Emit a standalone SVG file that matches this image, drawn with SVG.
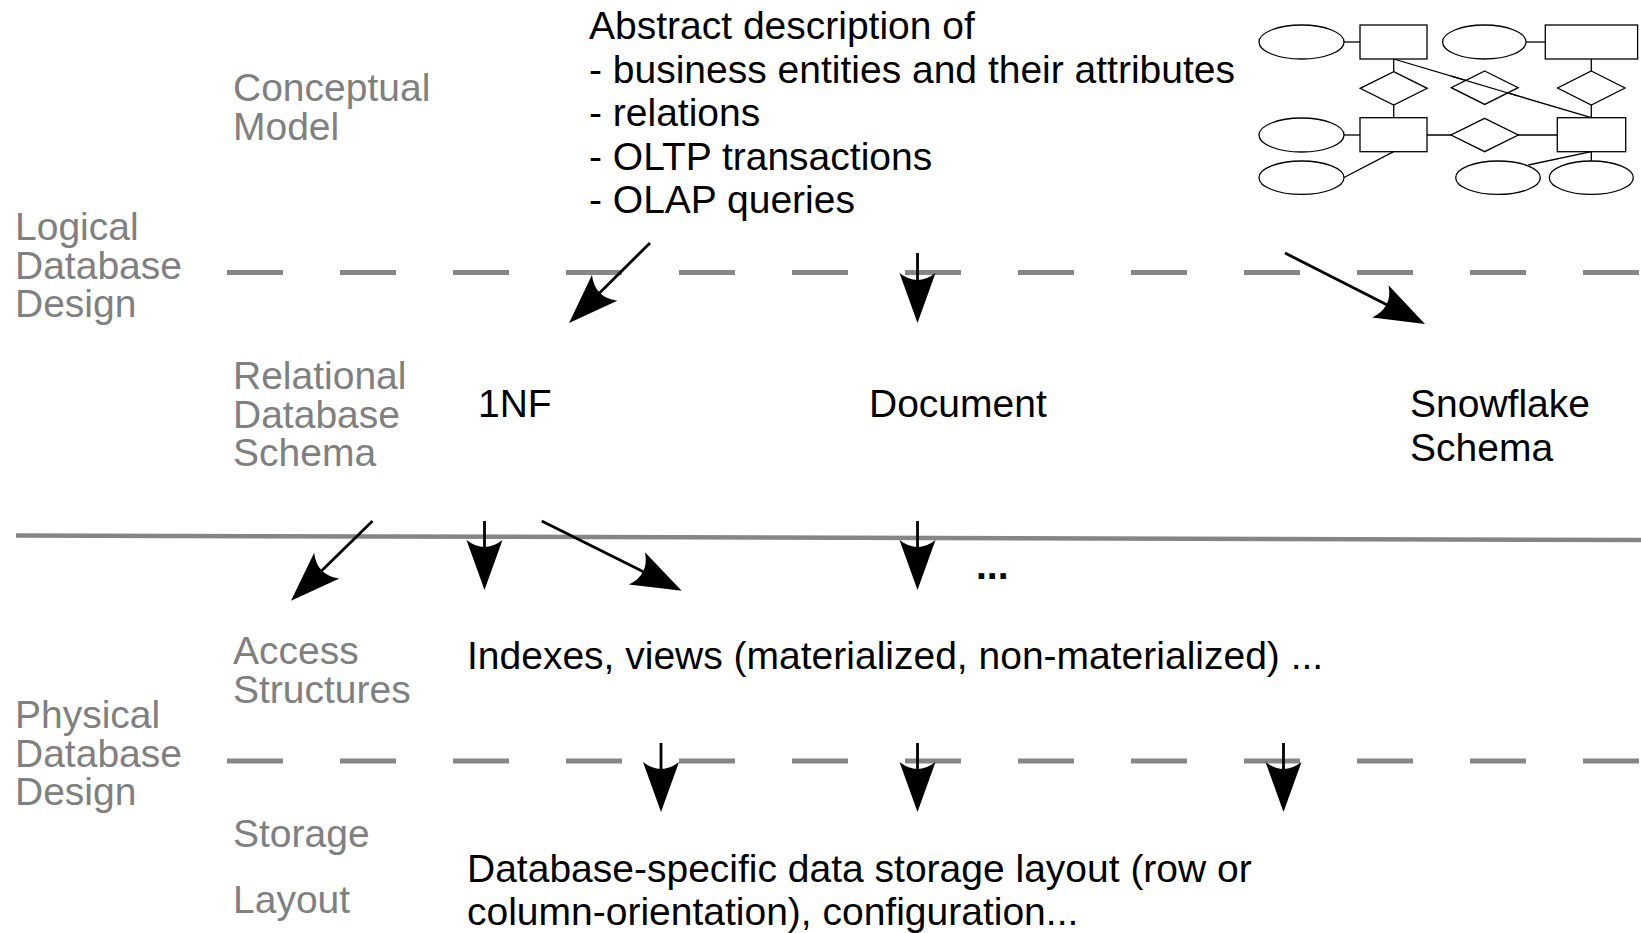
<svg xmlns="http://www.w3.org/2000/svg" width="1641" height="933" viewBox="0 0 1641 933">
  <style>
    .lbl { font-family: "Liberation Sans", Arial, Helvetica, sans-serif; font-size: 39px; fill: #808080; }
    .txt { font-family: "Liberation Sans", Arial, Helvetica, sans-serif; font-size: 39px; fill: #000; }
    .dash { stroke: #878787; stroke-width: 5; stroke-dasharray: 56 57; fill: none; }
    .solid { stroke: #858585; stroke-width: 4.5; fill: none; }
    .arrow { stroke: #000; stroke-width: 2.8; fill: none; marker-end: url(#head); }
    .er { stroke: #000; stroke-width: 1.3; fill: #fff; }
    .erl { stroke: #000; stroke-width: 1.3; fill: none; }
  </style>
  <defs>
    <!-- filled arrowhead with a concave back; tip sits 40 units beyond the line end -->
    <marker id="head" markerUnits="userSpaceOnUse" orient="auto" viewBox="-12 -20 54 40" refX="0" refY="0" markerWidth="54" markerHeight="40" overflow="visible">
      <path d="M40,0 L-10,-18 Q4,0 -10,18 Z" fill="#000"/>
    </marker>
  </defs>
  <rect width="1641" height="933" fill="#fff"/>

  <!-- layer separators -->
  <g id="separators">
    <line class="dash" x1="227" y1="272.5" x2="1641" y2="272.5"/>
    <line class="solid" x1="16" y1="535.5" x2="1641" y2="540"/>
    <line class="dash" x1="227" y1="761" x2="1641" y2="761"/>
  </g>

  <!-- layer names -->
  <g id="conceptual-model">
    <text class="lbl" x="233" y="101">Conceptual</text>
    <text class="lbl" x="233" y="139.5">Model</text>
  </g>
  <g id="logical-design">
    <text class="lbl" x="15" y="240">Logical</text>
    <text class="lbl" x="15" y="278.5">Database</text>
    <text class="lbl" x="15" y="317">Design</text>
  </g>
  <g id="relational-schema">
    <text class="lbl" x="233" y="389">Relational</text>
    <text class="lbl" x="233" y="427.5">Database</text>
    <text class="lbl" x="233" y="466">Schema</text>
  </g>
  <g id="access-structures">
    <text class="lbl" x="233" y="664">Access</text>
    <text class="lbl" x="233" y="702.5">Structures</text>
  </g>
  <g id="physical-design">
    <text class="lbl" x="15" y="728">Physical</text>
    <text class="lbl" x="15" y="766.5">Database</text>
    <text class="lbl" x="15" y="805">Design</text>
  </g>
  <g id="storage-layout">
    <text class="lbl" x="233" y="847">Storage</text>
    <text class="lbl" x="233" y="913">Layout</text>
  </g>

  <!-- content -->
  <g id="abstract-description">
    <text class="txt" x="589" y="39">Abstract description of</text>
    <text class="txt" x="589" y="82.5">- business entities and their attributes</text>
    <text class="txt" x="589" y="126">- relations</text>
    <text class="txt" x="589" y="169.5">- OLTP transactions</text>
    <text class="txt" x="589" y="213">- OLAP queries</text>
  </g>

  <g id="er-diagram">
    <line class="erl" x1="1344" y1="42" x2="1360" y2="42"/>
    <line class="erl" x1="1526" y1="42" x2="1545" y2="42"/>
    <line class="erl" x1="1393.7" y1="59" x2="1393.7" y2="117.7"/>
    <line class="erl" x1="1393.7" y1="59" x2="1591.3" y2="117.7"/>
    <line class="erl" x1="1591.3" y1="59" x2="1591.3" y2="117.7"/>
    <line class="erl" x1="1427" y1="135" x2="1557.3" y2="135"/>
    <line class="erl" x1="1344" y1="135" x2="1360" y2="135"/>
    <line class="erl" x1="1344" y1="177.5" x2="1393.7" y2="151.7"/>
    <line class="erl" x1="1528.3" y1="165" x2="1591.3" y2="151.7"/>
    <line class="erl" x1="1591.3" y1="151.7" x2="1591.3" y2="161"/>
    <ellipse class="er" cx="1301.5" cy="42" rx="42.5" ry="17"/>
    <rect class="er" x="1360" y="25" width="67" height="34"/>
    <ellipse class="er" cx="1484.3" cy="42" rx="41.7" ry="17"/>
    <rect class="er" x="1545.3" y="25" width="92.3" height="34"/>
    <polygon class="er" points="1393.7,71.7 1427.2,88.3 1393.7,105 1360.2,88.3"/>
    <polygon class="er" points="1484.7,71 1518.2,87.7 1484.7,104.4 1451.2,87.7"/>
    <polygon class="er" points="1591.3,71 1625,88 1591.3,105 1557.6,88"/>
    <line class="erl" x1="1451.2" y1="76.1" x2="1518.2" y2="96"/>
    <ellipse class="er" cx="1301.5" cy="135" rx="42.5" ry="17"/>
    <rect class="er" x="1360" y="117.7" width="67" height="34"/>
    <polygon class="er" points="1484.7,118.3 1518.3,135 1484.7,151.7 1451,135"/>
    <rect class="er" x="1557.3" y="117.7" width="68.4" height="34"/>
    <ellipse class="er" cx="1301.5" cy="177.7" rx="42.5" ry="16.7"/>
    <ellipse class="er" cx="1498" cy="177.7" rx="42.3" ry="16.7"/>
    <ellipse class="er" cx="1591.3" cy="177.7" rx="42" ry="16.7"/>
  </g>

  <g id="schema-1nf"><text class="txt" x="478" y="417">1NF</text></g>
  <g id="schema-document"><text class="txt" x="869" y="417">Document</text></g>
  <g id="schema-snowflake">
    <text class="txt" x="1410" y="417">Snowflake</text>
    <text class="txt" x="1410" y="461">Schema</text>
  </g>
  <g id="more-schemas"><text class="txt" x="976" y="579" font-weight="bold">...</text></g>

  <g id="access-content">
    <text class="txt" x="467" y="669">Indexes, views (materialized, non-materialized) ...</text>
  </g>
  <g id="storage-content">
    <text class="txt" x="467" y="882">Database-specific data storage layout (row or</text>
    <text class="txt" x="467" y="925">column-orientation), configuration...</text>
  </g>

  <!-- connectors -->
  <g id="connectors">
    <line class="arrow" x1="650" y1="243" x2="597.5" y2="294.9"/>
    <line class="arrow" x1="917.5" y1="253" x2="917.5" y2="283"/>
    <line class="arrow" x1="1285" y1="253" x2="1389.3" y2="305.9"/>
    <line class="arrow" x1="372.5" y1="521" x2="319.6" y2="572.7"/>
    <line class="arrow" x1="484.5" y1="521" x2="484.5" y2="550"/>
    <line class="arrow" x1="541.7" y1="521" x2="645.9" y2="572.9"/>
    <line class="arrow" x1="917.5" y1="521" x2="917.5" y2="550"/>
    <line class="arrow" x1="661" y1="743" x2="661" y2="772"/>
    <line class="arrow" x1="917.5" y1="743" x2="917.5" y2="772"/>
    <line class="arrow" x1="1283.5" y1="743" x2="1283.5" y2="772"/>
  </g>
</svg>
